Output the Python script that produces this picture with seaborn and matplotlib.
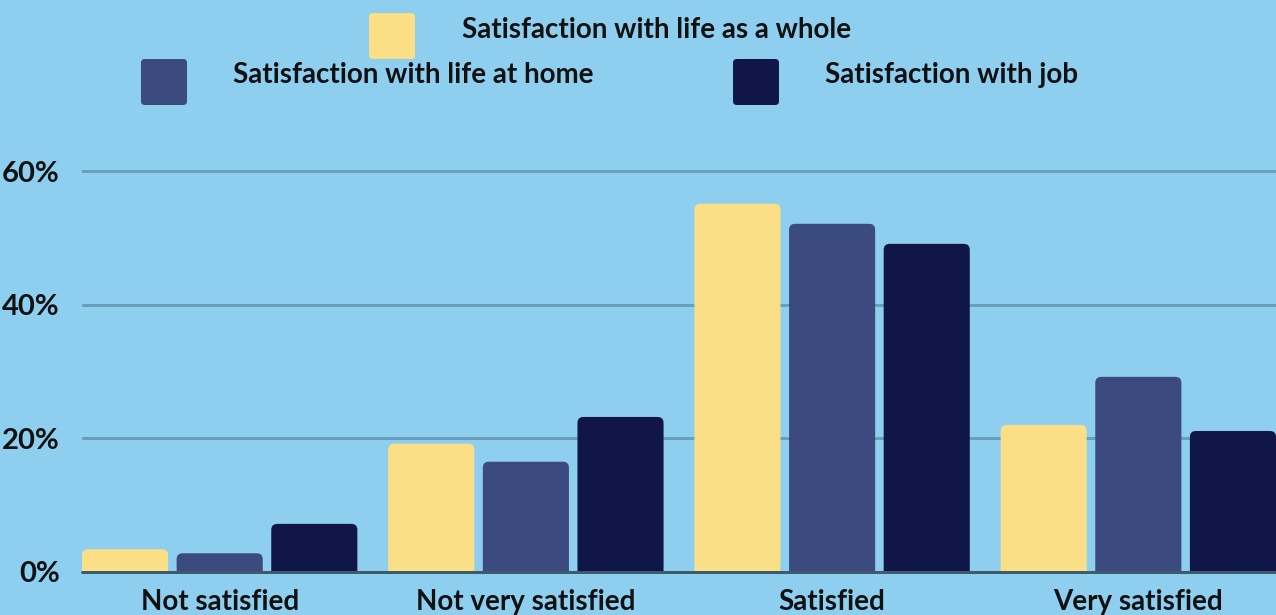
import matplotlib
matplotlib.use("Agg")
import matplotlib.pyplot as plt
from matplotlib.patches import FancyBboxPatch
import seaborn as sns
import pandas as pd

categories = ["Not satisfied", "Not very satisfied", "Satisfied", "Very satisfied"]
series_names = ["Satisfaction with life as a whole",
                "Satisfaction with life at home",
                "Satisfaction with job"]
life_whole = [3.4, 19.2, 55.1, 22.0]
life_home = [2.8, 16.5, 52.1, 29.2]
job = [7.2, 23.2, 49.1, 21.1]
yticks = [0, 20, 40, 60]
ytick_labels = ["0%", "20%", "40%", "60%"]

colors = ["#FBDF86", "#3B4A7F", "#101748"]
bg = "#8ECFF0"

rows = []
for name, vals in zip(series_names, [life_whole, life_home, job]):
    for c, v in zip(categories, vals):
        rows.append({"category": c, "series": name, "value": v})
df = pd.DataFrame(rows)

sns.set_theme(style="white")
plt.rcParams["font.family"] = ["Lato", "DejaVu Sans"]

fig = plt.figure(figsize=(12.76, 6.15), dpi=100, facecolor=bg)
ax = fig.add_axes([82 / 1276, (615 - 572) / 615, 1 - 82 / 1276, (572 - 140) / 615])
ax.set_facecolor(bg)

sns.barplot(data=df, x="category", y="value", hue="series", order=categories,
            hue_order=series_names, palette=colors, width=0.927, gap=0.09,
            legend=False, ax=ax, saturation=1, edgecolor="none", linewidth=0)

ymax = 60 * 432 / 401
ax.set_ylim(0, ymax)
bars = list(ax.patches)
xmin = min(p.get_x() for p in bars)
xmax = max(p.get_x() + p.get_width() for p in bars)
ax.set_xlim(xmin, xmax)

# convert bars to rounded-top bars
x_px_per_unit = 1194 / (xmax - xmin)
y_px_per_unit = 401 / 60
r_px = 6
aspect = x_px_per_unit / y_px_per_unit
r = r_px / x_px_per_unit
for p in bars:
    x0, y0 = p.get_x(), p.get_y()
    w, h = p.get_width(), p.get_height()
    fc = p.get_facecolor()
    p.remove()
    ext = 2 * r_px / y_px_per_unit
    fb = FancyBboxPatch((x0, y0 - ext), w, h + ext,
                        boxstyle=f"round,pad=0,rounding_size={r}",
                        mutation_aspect=aspect, facecolor=fc, edgecolor="none",
                        linewidth=0, zorder=3)
    ax.add_patch(fb)

for yv in [20, 40, 60]:
    ax.axhline(yv, color="#6B9EBB", lw=3 * 0.72, zorder=1)
ax.axhline(0, color="#3E5B6C", lw=3 * 0.72, zorder=4, clip_on=False)

for s in ax.spines.values():
    s.set_visible(False)
ax.set_yticks(yticks)
ax.set_yticklabels(ytick_labels, fontsize=21, fontweight="bold", color="#111111")
ax.tick_params(axis="y", length=0, pad=16)
ax.tick_params(axis="x", length=0, pad=12.5)
for lbl in ax.get_xticklabels():
    lbl.set_fontsize(20)
    lbl.set_fontweight("bold")
    lbl.set_color("#111111")
ax.set_xlabel("")
ax.set_ylabel("")
ax.grid(False)

# legend
legend_items = [
    (369, 13, 462, 30, 0),
    (141, 59, 233, 75, 1),
    (733, 59, 825, 75, 2),
]
W, H = 1276, 615
for sx, sy, tx, ty, i in legend_items:
    size = 46
    patch = FancyBboxPatch((sx / W, 1 - (sy + size) / H), size / W, size / H,
                           boxstyle="round,pad=0,rounding_size=0.003",
                           mutation_aspect=W / H,
                           transform=fig.transFigure, facecolor=colors[i],
                           edgecolor="none")
    fig.patches.append(patch)
    fig.text(tx / W, 1 - ty / H, series_names[i], fontsize=20, fontweight="bold",
             color="#111111", ha="left", va="center")

fig.savefig("out.png", dpi=100, facecolor=bg)
